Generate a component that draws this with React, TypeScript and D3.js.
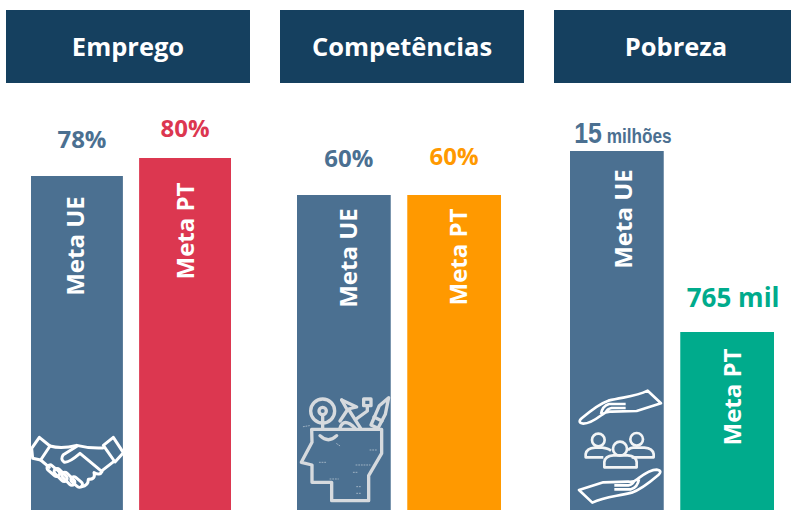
import React from 'react';
import * as d3 from 'd3';

// Panels and their targets
const panelNames = ['Emprego', 'Competências', 'Pobreza'];
const seriesNames = ['Meta UE', 'Meta PT'];
const empregoLabels = ['78%', '80%'];
const competenciasLabels = ['60%', '60%'];
const pobrezaLabels = ['15 milhões', '765 mil'];

// The bars are not on a common scale in the original, so these are drawn levels read off the picture
const empregoLevels = [334, 352];
const competenciasLevels = [315, 315];
const pobrezaLevels = [359, 178];

const panelLabels = [empregoLabels, competenciasLabels, pobrezaLabels];
const panelLevels = [empregoLevels, competenciasLevels, pobrezaLevels];

const WIDTH = 791;
const HEIGHT = 510;
const BLUE = '#4b7091';
const HEADER = '#15405f';
const FONT = '"Open Sans", sans-serif';

const headerX = [6, 280, 554];
const headerW = [244, 244, 237];
const barRanges: [number, number][] = [[31, 231], [297, 501], [570, 774]];
const ptColors = ['#dc3750', '#ff9900', '#00ab8c'];
// label layout: distance above the bar, sideways shifts, rotated label centre below the top
const valueGap = [[36, 29], [36, 38], [17, 33]];
const valueShift = [[5, 0], [5, 0], [6, 6]];
const nameShift = [[-1, 1], [5, 5], [7, 6]];
const nameOffset = [[70, 73], [63, 62], [68, 65]];

const y = d3.scaleLinear().domain([0, HEIGHT]).range([HEIGHT, 0]);

const Handshake = () => (
  <g transform="translate(20,420) scale(0.3333)" fill="none" stroke="#fff" strokeWidth={9} strokeLinejoin="round" strokeLinecap="round">
    <path d="M58,52 L90,78 L62,120 L38,115 L35,85 Z" fill="#4b7091" />
    <path d="M280,52 L250,76 L285,126 L310,98 Z" fill="#4b7091" />
    <path d="M90,78 Q125,88 170,76 Q210,86 248,84" />
    <path d="M172,78 L130,104 Q120,118 132,126 Q145,130 180,100 L246,155 Q240,168 222,158 Q228,178 205,178 Q205,198 185,200" />
    <path d="M62,120 L88,142" />
    <path d="M282,124 L246,152" />
    <rect x="-22" y="-9" width="44" height="18" rx="9" transform="translate(100,152) rotate(40)" />
    <rect x="-24" y="-9" width="48" height="18" rx="9" transform="translate(122,165) rotate(45)" />
    <rect x="-24" y="-9" width="48" height="18" rx="9" transform="translate(145,176) rotate(45)" />
    <rect x="-20" y="-9" width="40" height="18" rx="9" transform="translate(170,186) rotate(40)" />
  </g>
);

const Head = () => (
  <g transform="translate(290,385) scale(0.3333)" fill="none" stroke="#d6dade" strokeWidth={10} strokeLinejoin="round" strokeLinecap="round">
    <path d="M65,133 L275,133 L275,205 L236,272 L236,347 L125,347 L125,292 L66,292 L66,240 L34,232 L66,172 Z" />
    <path d="M90,152 Q115,176 140,152" />
    <circle cx="98" cy="78" r="36" />
    <circle cx="98" cy="78" r="11" />
    <path d="M98,90 L98,132" />
    <path d="M150,130 Q160,95 196,130" />
    <path d="M155,45 L200,66 L175,72 L212,130" />
    <path d="M155,45 L172,75 L150,108" />
    <rect x="221" y="42" width="22" height="20" />
    <path d="M232,62 L232,78 L196,104" />
    <path d="M296,38 L286,88 L264,130 L243,120 L268,62 Z" />
    <path d="M252,96 L276,108" />
    <g stroke="#9fb2c3" strokeWidth={3} strokeDasharray="3 5">
      <path d="M40,125 L58,122" />
      <path d="M88,232 L112,232" />
      <path d="M198,240 L240,240" />
      <path d="M120,282 L145,282" />
      <path d="M190,262 L205,262" />
      <path d="M200,305 L212,305" />
      <path d="M200,325 L212,325" />
      <path d="M240,195 L260,195" />
      <path d="M140,176 L152,184" />
    </g>
  </g>
);

const handPath =
  'M248,32 C212,50 180,50 130,62 Q100,72 50,115 Q36,128 55,131 Q75,131 110,105 Q122,93 140,95 L215,93 L288,70 Z M182,72 L132,72 Q112,78 108,102 M182,84 L140,84 Q126,86 122,98';

const People = () => (
  <g transform="translate(565,380) scale(0.3333)" fill="none" stroke="#f2f4f5" strokeWidth={8} strokeLinejoin="round">
    <path d={handPath} stroke="#fff" />
    <path d={handPath} stroke="#fff" transform="rotate(180 165 200)" />
    <circle cx="100" cy="180" r="19" />
    <circle cx="215" cy="178" r="19" />
    <path d="M115,232 L62,232 L62,222 Q65,205 90,203 L112,203 Q130,205 138,212" />
    <path d="M200,232 L266,232 L266,222 Q263,205 238,203 L205,203 Q190,205 190,212" />
    <circle cx="165" cy="206" r="21" />
    <path d="M118,262 L118,246 Q120,228 145,226 L188,226 Q213,228 215,246 L215,262 Z" />
  </g>
);

const icons = [<Handshake key="h" />, <Head key="c" />, <People key="p" />];

const Panel = ({ index }: { index: number }) => {
  const x = d3.scaleBand<string>().domain(seriesNames).range(barRanges[index]).paddingInner(0.15);
  return (
    <g>
      <rect x={headerX[index]} y={10} width={headerW[index]} height={73} fill={HEADER} />
      <text
        x={headerX[index] + 122}
        y={56}
        textAnchor="middle"
        fill="#fff"
        fontFamily={FONT}
        fontWeight={700}
        fontSize={25.5}
      >
        {panelNames[index]}
      </text>
      {seriesNames.map((name, i) => {
        const level = panelLevels[index][i];
        const cx = (x(name) as number) + x.bandwidth() / 2;
        const top = y(level);
        const color = i === 0 ? BLUE : ptColors[index];
        const valueY = top - valueGap[index][i] + 8;
        const label = panelLabels[index][i];
        return (
          <g key={name}>
            <rect x={x(name)} y={top} width={x.bandwidth()} height={HEIGHT - top} fill={color} />
            <text
              transform={`translate(${cx + 8 + nameShift[index][i]},${top + nameOffset[index][i]}) rotate(-90)`}
              textAnchor="middle"
              fill="#fff"
              fontFamily={FONT}
              fontWeight={700}
              fontSize={24}
            >
              {name}
            </text>
            {label === '15 milhões' ? (
              <text
                transform={`translate(${cx + valueShift[index][i]},${valueY + 1}) scale(0.86,1)`}
                textAnchor="middle"
                fill={color}
                fontFamily='"Liberation Sans", sans-serif'
                fontWeight={700}
                fontSize={20}
              >
                <tspan fontSize={29}>15</tspan> milhões
              </text>
            ) : (
              <text
                x={cx + valueShift[index][i]}
                y={valueY}
                textAnchor="middle"
                fill={color}
                fontFamily={FONT}
                fontWeight={700}
                fontSize={i === 1 && index === 2 ? 26 : 24}
              >
                {label}
              </text>
            )}
          </g>
        );
      })}
      {icons[index]}
    </g>
  );
};

export default function App() {
  return (
    <>
      <style>{'body{margin:0;background:#fff}svg{display:block}'}</style>
      <svg width={WIDTH} height={HEIGHT} viewBox={`0 0 ${WIDTH} ${HEIGHT}`}>
        {panelNames.map((_, i) => (
          <Panel key={i} index={i} />
        ))}
      </svg>
    </>
  );
}
